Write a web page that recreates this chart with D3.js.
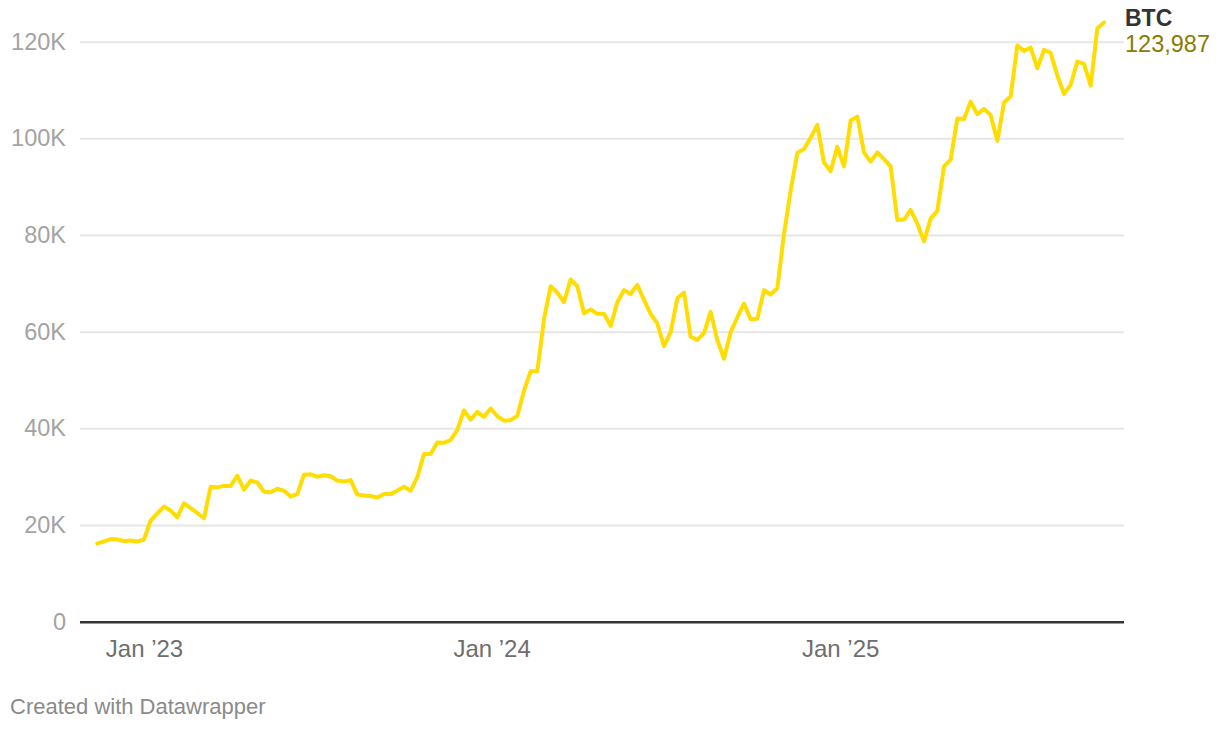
<!DOCTYPE html>
<html>
<head>
<meta charset="utf-8">
<script src="https://cdn.jsdelivr.net/npm/d3@7"></script>
<style>
    body { margin: 0; background: #fff; }
    svg { display: block; font-family: "Liberation Sans", Arial, Helvetica, sans-serif; }
</style>
</head>
<body>
<svg id="chart" width="1220" height="730"></svg>
<script>
// weekly closes, first week starts 2022-11-13
var firstWeek = "2022-11-13";
var btcValues = [
    16200, 16600, 17100, 17000, 16700, 16800, 16600, 17000, 20900, 22400,
    23800, 23000, 21600, 24500, 23500, 22500, 21400, 27900, 27800, 28100,
    28100, 30200, 27300, 29200, 28800, 26900, 26800, 27500, 27100, 25900,
    26400, 30400, 30500, 30000, 30300, 30100, 29200, 29000, 29300, 26300,
    26100, 26000, 25700, 26400, 26400, 27100, 27900, 27100, 29900, 34700,
    34700, 37100, 37000, 37600, 39700, 43700, 41800, 43400, 42400, 44100,
    42500, 41600, 41700, 42600, 47800, 51800, 51800, 62600, 69400, 68100,
    66100, 70800, 69400, 63800, 64600, 63700, 63700, 61200, 66100, 68600,
    67800, 69700, 66600, 63700, 61700, 57000, 59900, 66900, 68100, 59000,
    58300, 59700, 64100, 58300, 54400, 59900, 63000, 65800, 62600, 62700,
    68600, 67700, 69000, 80200, 89200, 97000, 97800, 100100, 102800, 95000,
    93200, 98300, 94200, 103700, 104500, 97100, 95200, 97100, 95700, 94200,
    83100, 83200, 85200, 82400, 78700, 83400, 85000, 94200, 95600, 104100,
    104000, 107600, 105000, 106100, 104800, 99500, 107400, 108700, 119200, 118100,
    118800, 114500, 118300, 117700, 113000, 109200, 111100, 115900, 115400, 110900,
    122800, 123987
];
var yTicks = [0, 20000, 40000, 60000, 80000, 100000, 120000];
var yTickLabels = ["0", "20K", "40K", "60K", "80K", "100K", "120K"];
var xTicks = ["2023-01-01", "2024-01-01", "2025-01-01"];
var xTickLabels = ["Jan \u201923", "Jan \u201924", "Jan \u201925"];
var seriesName = "BTC";
var lastValueLabel = "123,987";
var creditText = "Created with Datawrapper";

var parseDay = d3.timeParse("%Y-%m-%d");
var start = parseDay(firstWeek);
var points = btcValues.map(function (v, i) {
    return { date: d3.timeWeek.offset(start, i), value: v };
});

var plotLeft = 80, plotRight = 1124;
var x = d3.scaleTime()
    .domain([points[0].date, points[points.length - 1].date])
    .range([97.3, 1104]);
var y = d3.scaleLinear()
    .domain([0, 120000])
    .range([621.7, 41.7]);

var svg = d3.select("#chart");

// y grid + labels
var yAxis = d3.axisLeft(y)
    .tickValues(yTicks)
    .tickSize(-(plotRight - plotLeft))
    .tickPadding(14)
    .tickFormat(function (d, i) { return yTickLabels[i]; });
var gy = svg.append("g")
    .attr("class", "y-axis")
    .attr("transform", "translate(" + plotLeft + ",0)")
    .call(yAxis);
gy.select(".domain").remove();
gy.selectAll(".tick line")
    .attr("stroke", function (d) { return d === 0 ? "#333" : "#e6e6e6"; })
    .attr("stroke-width", function (d) { return d === 0 ? 2.5 : 2; });
gy.selectAll(".tick text")
    .attr("fill", "#a3a3a3")
    .style("font-size", "23.5px");

// x labels
var xAxis = d3.axisBottom(x)
    .tickValues(xTicks.map(parseDay))
    .tickSize(0)
    .tickPadding(0)
    .tickFormat(function (d, i) { return xTickLabels[i]; });
var gx = svg.append("g")
    .attr("class", "x-axis")
    .attr("transform", "translate(0,640)")
    .call(xAxis);
gx.select(".domain").remove();
gx.selectAll(".tick text")
    .attr("fill", "#6e6e6e")
    .style("font-size", "24px");

// line
var line = d3.line()
    .x(function (d) { return x(d.date); })
    .y(function (d) { return y(d.value); });
svg.append("path")
    .datum(points)
    .attr("fill", "none")
    .attr("stroke", "#ffdd00")
    .attr("stroke-width", 4)
    .attr("stroke-linejoin", "round")
    .attr("stroke-linecap", "round")
    .attr("d", line);

// end label
svg.append("text")
    .attr("x", 1125)
    .attr("y", 26)
    .attr("fill", "#333")
    .style("font-size", "23px")
    .style("font-weight", "bold")
    .text(seriesName);
svg.append("text")
    .attr("x", 1125)
    .attr("y", 52)
    .attr("fill", "#8a7b00")
    .style("font-size", "23.5px")
    .text(lastValueLabel);

svg.append("text")
    .attr("x", 10)
    .attr("y", 714)
    .attr("fill", "#8a8a8a")
    .style("font-size", "22px")
    .text(creditText);
</script>
</body>
</html>
